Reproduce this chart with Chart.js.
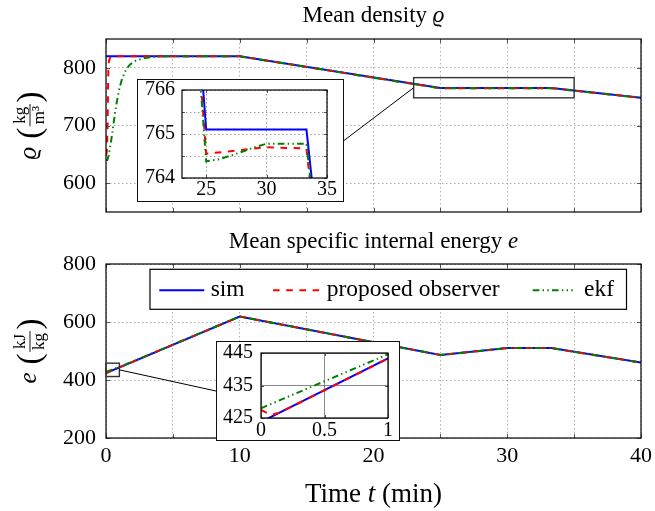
<!DOCTYPE html>
<html><head><meta charset="utf-8">
<script src="https://cdn.jsdelivr.net/npm/chart.js@4.4.1/dist/chart.umd.min.js"></script>
<style>
html,body{margin:0;padding:0;background:#fff;}
#wrap{position:relative;width:655px;height:511px;overflow:hidden;background:#fff;}
#wrap canvas{position:absolute;display:block;}
.inset{position:absolute;background:#fff;border:1px solid #111;box-sizing:border-box;}
.inset canvas{left:0;top:0;}
</style></head><body>
<div id="wrap">
<canvas id="cRho" width="655" height="225" style="left:0;top:0;width:655px;height:225px"></canvas>
<canvas id="cE" width="655" height="286" style="left:0;top:225px;width:655px;height:286px"></canvas>
<div class="inset" id="insRho" style="left:137px;top:79px;width:207px;height:123px"><canvas id="iRho" width="205" height="121" style="width:205px;height:121px"></canvas></div>
<div class="inset" id="insE" style="left:216px;top:341px;width:184px;height:100px"><canvas id="iE" width="182" height="98" style="width:182px;height:98px"></canvas></div>
</div>
<script>
// ---------------- data ----------------
const seriesNames = ['sim', 'proposed observer', 'ekf'];

// mean density rho (kg/m^3) vs time (min)
const rhoSimT = [0, 10, 25, 33.3, 40];
const rhoSim  = [820, 820, 765.1, 765.1, 748];
const rhoObsT = [0, 0.06, 0.12, 0.15, 0.18, 0.22, 0.3, 0.45, 10, 25, 30, 33.3, 40];
const rhoObs  = [648, 655, 700, 760, 800, 812, 817, 820, 820, 764.55, 764.7, 764.67, 748];
const rhoEkfT = [0, 0.1, 0.2, 0.35, 0.5, 0.65, 0.8, 1.0, 1.2, 1.5, 1.8, 2.2, 2.7, 3.3, 4.0, 5.0, 10, 25, 26, 27.5, 29, 30, 33.3, 40];
const rhoEkf  = [640, 640, 648, 668, 692, 718, 740, 764, 781, 797, 806, 812, 816, 818.5, 819.5, 820, 820, 764.38, 764.42, 764.55, 764.7, 764.78, 764.78, 748];

// mean specific internal energy e (kJ/kg) vs time (min)
const eSimT = [0, 10, 25, 30, 33.3, 40];
const eSim  = [423.8, 619, 486, 510, 510, 460];
const eObsT = [0, 0.08, 0.15, 10, 25, 30, 33.3, 40];
const eObs  = [427.5, 425.9, 426.7, 619, 486, 510, 510, 460];
const eEkfT = [0, 1, 10, 25, 30, 33.3, 40];
const eEkf  = [428, 444.6, 619, 486, 510, 510, 460];

// axes
const timeRange = [0, 40];
const timeTicks = [0, 5, 10, 15, 20, 25, 30, 35, 40];
const timeTickLabels = ['0', '', '10', '', '20', '', '30', '', '40'];
const rhoRange = [550, 850];
const rhoTicks = [600, 700, 800];
const rhoTickLabels = ['600', '700', '800'];
const eRange = [200, 800];
const eTicks = [200, 400, 600, 800];
const eTickLabels = ['200', '400', '600', '800'];

// zoom insets
const rhoZoomX = [23, 35];
const rhoZoomXTicks = [25, 30, 35];
const rhoZoomXLabels = ['25', '30', '35'];
const rhoZoomY = [764, 766];
const rhoZoomYTicks = [764, 764.5, 765, 765.5, 766];
const rhoZoomYLabels = ['764', '', '765', '', '766'];
const eZoomX = [0, 1];
const eZoomXTicks = [0, 0.5, 1];
const eZoomXLabels = ['0', '0.5', '1'];
const eZoomY = [425, 445];
const eZoomYTicks = [425, 435, 445];
const eZoomYLabels = ['425', '435', '445'];

// spy boxes in the main plots (data units)
const rhoSpyX = [23, 35], rhoSpyY = [748, 783];
const eSpyX = [0, 1], eSpyY = [412, 458];

// texts
const titleRho = ['Mean density ', 'ϱ'];
const titleE = ['Mean specific internal energy ', 'e'];
const yTitleRho = {sym: 'ϱ', num: 'kg', den: 'm³'};
const yTitleE = {sym: 'e', num: 'kJ', den: 'kg'};
const xTitle = ['Time ', 't', ' (min)'];

// ---------------- styles ----------------
const SERIF = "'Liberation Serif', 'DejaVu Serif', serif";
const seriesStyle = [
  {color: '#0000ff', dash: [], order: 2},
  {color: '#ff0000', dash: [6.6, 6.6], order: 1},
  {color: '#008000', dash: [6.6, 3.3, 1.4, 3.3, 1.4, 3.3], order: 0}
];

function pts(t, v) { return t.map((x, i) => ({x: x, y: v[i]})); }
function mkDatasets(T, V) {
  return T.map((t, k) => ({
    label: seriesNames[k],
    data: pts(t, V[k]),
    borderColor: seriesStyle[k].color,
    backgroundColor: seriesStyle[k].color,
    borderDash: seriesStyle[k].dash,
    borderWidth: 2,
    pointRadius: 0,
    tension: 0,
    fill: false,
    order: seriesStyle[k].order,
    clip: 0
  }));
}

function drawMixed(ctx, parts, size, cx, baseline) {
  let total = 0; const w = [];
  parts.forEach((p, i) => { ctx.font = (i % 2 ? 'italic ' : '') + size + 'px ' + SERIF; w[i] = ctx.measureText(p).width; total += w[i]; });
  let x = cx - total / 2;
  ctx.textAlign = 'left'; ctx.textBaseline = 'alphabetic'; ctx.fillStyle = '#000';
  parts.forEach((p, i) => { ctx.font = (i % 2 ? 'italic ' : '') + size + 'px ' + SERIF; ctx.fillText(p, x, baseline); x += w[i]; });
}

function drawYTitle(ctx, cx, cy, t) {
  ctx.save();
  ctx.translate(cx, cy); ctx.rotate(-Math.PI / 2);
  ctx.fillStyle = '#000'; ctx.textBaseline = 'alphabetic'; ctx.textAlign = 'left';
  const symFont = 'italic 25px ' + SERIF, parFont = '33px ' + SERIF, fracFont = '17px ' + SERIF;
  ctx.font = symFont; const sw = ctx.measureText(t.sym).width;
  ctx.font = parFont; const pw = ctx.measureText('(').width;
  ctx.font = fracFont; const nw = ctx.measureText(t.num).width, dw = ctx.measureText(t.den).width;
  const fw = Math.max(nw, dw) + 4;
  const gap1 = 8, gap2 = 1.5;
  const total = sw + gap1 + pw + gap2 + fw + gap2 + pw;
  let u = -total / 2;
  const axis = -6;
  ctx.font = symFont; ctx.fillText(t.sym, u, 0); u += sw + gap1;
  ctx.font = parFont; ctx.fillText('(', u, axis + 10); u += pw + gap2;
  ctx.font = fracFont; ctx.textAlign = 'center';
  ctx.fillText(t.num, u + fw / 2, axis - 5);
  ctx.fillText(t.den, u + fw / 2, axis + 13.5);
  ctx.fillRect(u, axis - 0.45, fw, 0.9);
  u += fw + gap2; ctx.textAlign = 'left';
  ctx.font = parFont; ctx.fillText(')', u, axis + 10);
  ctx.restore();
}

function decorPlugin(cfg) {
  return {
    id: 'decor' + cfg.key,
    afterDraw(chart) {
      const ctx = chart.ctx, a = chart.chartArea, xs = chart.scales.x, ys = chart.scales.y;
      ctx.save();
      ctx.setLineDash([]);
      ctx.strokeStyle = '#555'; ctx.lineWidth = 1;
      ctx.beginPath();
      xs.ticks.forEach(t => {
        const p = Math.round(xs.getPixelForValue(t.value)) + 0.5;
        ctx.moveTo(p, a.top); ctx.lineTo(p, a.top + cfg.tick);
        ctx.moveTo(p, a.bottom); ctx.lineTo(p, a.bottom - cfg.tick);
      });
      ys.ticks.forEach(t => {
        const p = Math.round(ys.getPixelForValue(t.value)) + 0.5;
        ctx.moveTo(a.left, p); ctx.lineTo(a.left + cfg.tick, p);
        ctx.moveTo(a.right, p); ctx.lineTo(a.right - cfg.tick, p);
      });
      ctx.stroke();
      ctx.strokeStyle = '#000'; ctx.lineWidth = 1.2;
      ctx.strokeRect(a.left, a.top, a.right - a.left, a.bottom - a.top);
      if (cfg.spy) {
        const x1 = xs.getPixelForValue(cfg.spy.x[0]), x2 = xs.getPixelForValue(cfg.spy.x[1]);
        const y1 = ys.getPixelForValue(cfg.spy.y[1]), y2 = ys.getPixelForValue(cfg.spy.y[0]);
        ctx.strokeStyle = '#333'; ctx.lineWidth = 1.4;
        ctx.strokeRect(x1, y1, x2 - x1, y2 - y1);
        const el = document.getElementById(cfg.spy.inset);
        const off = chart.canvas.offsetTop;
        const iy = el.offsetTop - off + el.offsetHeight / 2;
        let sx, ix;
        if (cfg.spy.side === 'left') { sx = x1; ix = el.offsetLeft + el.offsetWidth; }
        else { sx = x2; ix = el.offsetLeft; }
        ctx.strokeStyle = '#000'; ctx.lineWidth = 1;
        ctx.beginPath(); ctx.moveTo(sx, (y1 + y2) / 2); ctx.lineTo(ix, iy); ctx.stroke();
      }
      if (cfg.legend) {
        const L = cfg.legend;
        ctx.fillStyle = '#fff'; ctx.fillRect(L.x, L.y, L.w, L.h);
        ctx.strokeStyle = '#000'; ctx.lineWidth = 1.2; ctx.strokeRect(L.x, L.y, L.w, L.h);
        chart.data.datasets.forEach((ds, i) => {
          const sx = L.items[i];
          ctx.strokeStyle = ds.borderColor; ctx.lineWidth = 2; ctx.setLineDash(ds.borderDash || []);
          ctx.beginPath(); ctx.moveTo(sx, L.lineY); ctx.lineTo(sx + L.len[i], L.lineY); ctx.stroke();
          ctx.setLineDash([]);
          ctx.fillStyle = '#000'; ctx.font = L.font + 'px ' + SERIF; ctx.textAlign = 'left'; ctx.textBaseline = 'alphabetic';
          ctx.fillText(ds.label, sx + L.textOff[i], L.textY);
        });
      }
      const cxa = (a.left + a.right) / 2;
      if (cfg.title) drawMixed(ctx, cfg.title, 23, cxa, cfg.titleY);
      if (cfg.xtitle) drawMixed(ctx, cfg.xtitle, 27, cxa, cfg.xtitleY);
      if (cfg.ytitle) drawYTitle(ctx, 36, (a.top + a.bottom) / 2, cfg.ytitle);
      ctx.restore();
    }
  };
}

function axisOpts(range, ticks, labels, o) {
  return {
    type: 'linear', min: range[0], max: range[1],
    afterBuildTicks: s => { s.ticks = ticks.map(v => ({value: v})); },
    afterFit: s => {
      if (o.width !== undefined) s.width = o.width;
      if (o.height !== undefined) s.height = o.height;
      s.paddingTop = 0; s.paddingBottom = 0; s.paddingLeft = 0; s.paddingRight = 0;
    },
    ticks: {
      display: o.show !== false, autoSkip: false, maxRotation: 0, minRotation: 0,
      padding: o.pad, color: '#000', font: {family: SERIF, size: o.font},
      callback: (v, i) => labels[i]
    },
    grid: {display: true, color: o.gridColor, lineWidth: 1, drawTicks: false},
    border: {display: false, dash: o.gridDash}
  };
}

function baseOpts(padding, xAxis, yAxis) {
  return {
    responsive: false, animation: false, devicePixelRatio: 1,
    layout: {padding: padding},
    plugins: {legend: {display: false}, tooltip: {enabled: false}, title: {display: false}},
    scales: {x: xAxis, y: yAxis}
  };
}

new Chart(document.getElementById('cRho'), {
  type: 'line',
  data: {datasets: mkDatasets([rhoSimT, rhoObsT, rhoEkfT], [rhoSim, rhoObs, rhoEkf])},
  options: baseOpts({top: 39, right: 14, left: 0, bottom: 0},
    axisOpts(timeRange, timeTicks, timeTickLabels, {height: 13, show: false, pad: 5, font: 22, gridColor: '#b0b0b0', gridDash: [1.5, 2.5]}),
    axisOpts(rhoRange, rhoTicks, rhoTickLabels, {width: 106, pad: 10, font: 22, gridColor: '#b0b0b0', gridDash: [1.5, 2.5]})),
  plugins: [decorPlugin({key: 'A', tick: 4, title: titleRho, titleY: 21.5, ytitle: yTitleRho,
    spy: {x: rhoSpyX, y: rhoSpyY, inset: 'insRho', side: 'left'}})]
});

new Chart(document.getElementById('cE'), {
  type: 'line',
  data: {datasets: mkDatasets([eSimT, eObsT, eEkfT], [eSim, eObs, eEkf])},
  options: baseOpts({top: 39, right: 14, left: 0, bottom: 0},
    axisOpts(timeRange, timeTicks, timeTickLabels, {height: 73, pad: 5, font: 22, gridColor: '#b0b0b0', gridDash: [1.5, 2.5]}),
    axisOpts(eRange, eTicks, eTickLabels, {width: 106, pad: 10, font: 22, gridColor: '#b0b0b0', gridDash: [1.5, 2.5]})),
  plugins: [decorPlugin({key: 'B', tick: 4, title: titleE, titleY: 23.3, ytitle: yTitleE,
    xtitle: xTitle, xtitleY: 276.5,
    spy: {x: eSpyX, y: eSpyY, inset: 'insE', side: 'right'},
    legend: {x: 150, y: 44.3, w: 476.5, h: 40, lineY: 65.3, textY: 70.8, font: 23.5,
      items: [159.3, 273, 532.7], len: [45, 47, 40], textOff: [51.4, 53.7, 51.3]}})]
});

new Chart(document.getElementById('iRho'), {
  type: 'line',
  data: {datasets: mkDatasets([rhoSimT, rhoObsT, rhoEkfT], [rhoSim, rhoObs, rhoEkf])},
  options: baseOpts({top: 10, right: 16, left: 0, bottom: 0},
    axisOpts(rhoZoomX, rhoZoomXTicks, rhoZoomXLabels, {height: 23, pad: 0, font: 20, gridColor: '#a0a0a0', gridDash: [1.5, 2.5]}),
    axisOpts(rhoZoomY, rhoZoomYTicks, rhoZoomYLabels, {width: 44, pad: 7, font: 20, gridColor: '#a0a0a0', gridDash: [1.5, 2.5]})),
  plugins: [decorPlugin({key: 'C', tick: 3})]
});

new Chart(document.getElementById('iE'), {
  type: 'line',
  data: {datasets: mkDatasets([eSimT, eObsT, eEkfT], [eSim, eObs, eEkf])},
  options: baseOpts({top: 11, right: 11, left: 0, bottom: 0},
    axisOpts(eZoomX, eZoomXTicks, eZoomXLabels, {height: 22, pad: 1, font: 20, gridColor: '#8a8a8a', gridDash: []}),
    axisOpts(eZoomY, eZoomYTicks, eZoomYLabels, {width: 44, pad: 8, font: 20, gridColor: '#8a8a8a', gridDash: []})),
  plugins: [decorPlugin({key: 'D', tick: 3})]
});
</script>
</body></html>
